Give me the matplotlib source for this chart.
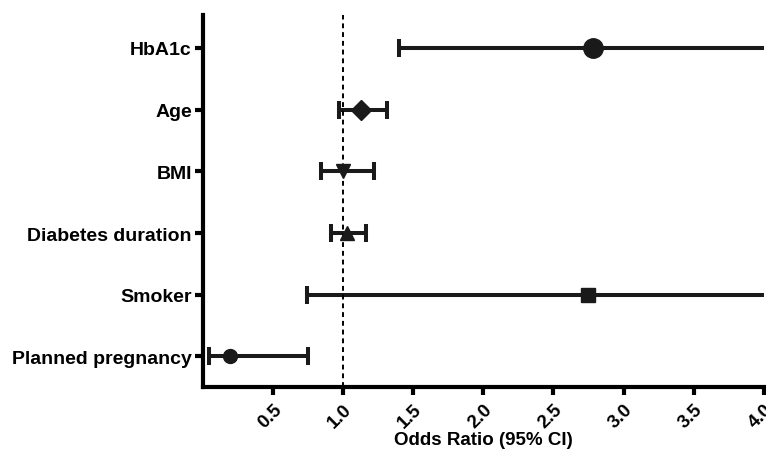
import matplotlib
matplotlib.use("Agg")
import matplotlib.pyplot as plt

categories = ["HbA1c", "Age", "BMI", "Diabetes duration", "Smoker", "Planned pregnancy"]
odds = [2.78, 1.13, 1.00, 1.03, 2.75, 0.19]
lower = [1.40, 0.97, 0.84, 0.91, 0.74, 0.04]
upper = [6.50, 1.31, 1.22, 1.16, 12.0, 0.75]
markers = ["o", "D", "v", "^", "s", "o"]
msizes = [14, 10, 10, 10, 10, 10]
xticks = [0.5, 1.0, 1.5, 2.0, 2.5, 3.0, 3.5, 4.0]

plt.rcParams['font.family'] = ['Liberation Sans', 'DejaVu Sans']
plt.rcParams['font.weight'] = 'bold'

fig = plt.figure(figsize=(7.66, 4.52), dpi=100)
ax = fig.add_axes([0.265, 0.1423, 0.732, 0.823])

n = len(categories)
ys = [n - 1 - i for i in range(n)]
for y, o, lo, hi, m, ms in zip(ys, odds, lower, upper, markers, msizes):
    ax.errorbar([o], [y], xerr=[[o - lo], [hi - o]], fmt=m, color='#1a1a1a',
                ms=ms, elinewidth=2.9, capsize=6.2, capthick=2.9, clip_on=True)

ax.axvline(1.0, color='black', lw=1.4, ls=(0, (2.5, 2)))

ax.set_xlim(0, 4)
ax.set_ylim(-0.49, n - 0.46)
ax.set_yticks(ys)
ax.set_yticklabels(categories, fontsize=14, fontweight='bold')
ax.set_xticks(xticks)
ax.set_xticklabels([f"{v:.1f}" for v in xticks], rotation=45, fontsize=13.5,
                   fontweight='bold', ha='right', rotation_mode='anchor')
ax.set_xlabel("Odds Ratio (95% CI)", fontsize=13.5, fontweight='bold', labelpad=0)

for s in ['top', 'right']:
    ax.spines[s].set_visible(False)
for s in ['left', 'bottom']:
    ax.spines[s].set_linewidth(3)
ax.tick_params(axis='both', width=3, length=6, direction='out', pad=2)
ax.tick_params(axis='x', pad=4)

fig.savefig("out.png", dpi=100)
